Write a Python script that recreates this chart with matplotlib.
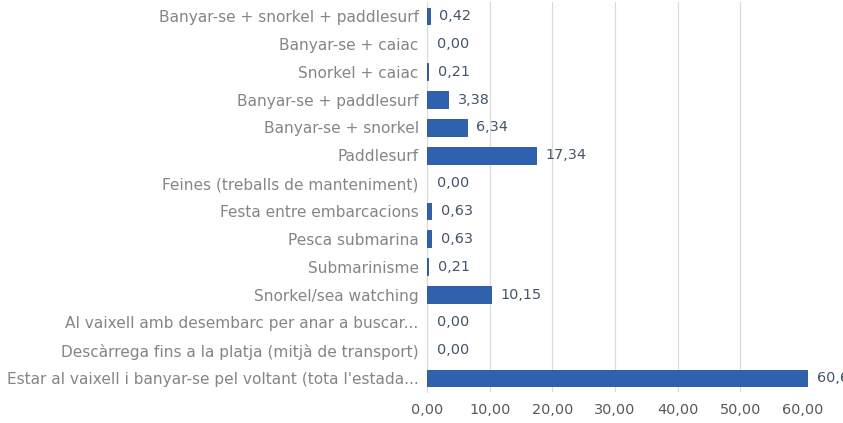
import matplotlib
matplotlib.use("Agg")
import matplotlib.pyplot as plt

categories = [
    "Banyar-se + snorkel + paddlesurf",
    "Banyar-se + caiac",
    "Snorkel + caiac",
    "Banyar-se + paddlesurf",
    "Banyar-se + snorkel",
    "Paddlesurf",
    "Feines (treballs de manteniment)",
    "Festa entre embarcacions",
    "Pesca submarina",
    "Submarinisme",
    "Snorkel/sea watching",
    "Al vaixell amb desembarc per anar a buscar...",
    "Descàrrega fins a la platja (mitjà de transport)",
    "Estar al vaixell i banyar-se pel voltant (tota l'estada...",
]
values = [0.42, 0.00, 0.21, 3.38, 6.34, 17.34, 0.00, 0.63, 0.63, 0.21, 10.15, 0.00, 0.00, 60.69]
xticks = [0, 10, 20, 30, 40, 50, 60]

plt.rcParams['font.family'] = ['DejaVu Sans']
FS = 10.4

fig = plt.figure(figsize=(8.43, 4.23), dpi=100)
ax = fig.add_axes([427/843, 1 - 392/423, (803-427)/843, (392-2)/423])

n = len(categories)
ypos = list(range(n))
ax.barh(ypos, values, height=0.6, color="#2E62B0", edgecolor="#24508F",
        linewidth=[0.6 if v > 0 else 0 for v in values], zorder=3, clip_on=False)
ax.set_ylim(n - 0.5, -0.5)
ax.set_xlim(0, 60)
ax.set_yticks(ypos)
ax.set_yticklabels(categories, fontsize=11.1, color="#858585")
ax.set_xticks(xticks)
ax.set_xticklabels([f"{t:.2f}".replace(".", ",") for t in xticks], fontsize=FS, color="#595959")
ax.tick_params(axis='y', length=0, pad=6)
ax.tick_params(axis='x', length=0, pad=8)
ax.grid(axis='x', color="#D9D9D9", linewidth=0.8, zorder=0)
for s in ['top', 'right', 'bottom']:
    ax.spines[s].set_visible(False)
ax.spines['left'].set_color("#D9D9D9")
ax.spines['left'].set_linewidth(0.8)

for y, v in zip(ypos, values):
    ax.annotate(f"{v:.2f}".replace(".", ","), xy=(v, y), xytext=(7, 0),
                textcoords="offset points", va="center", ha="left",
                fontsize=FS, color="#44546A", annotation_clip=False)

fig.savefig("out.png", dpi=100)
